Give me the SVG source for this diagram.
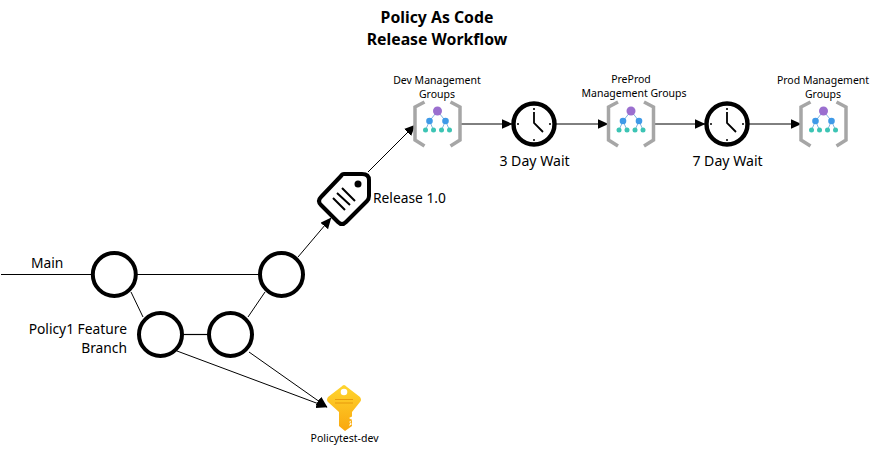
<svg xmlns="http://www.w3.org/2000/svg" width="878" height="452" viewBox="0 0 878 452">
<style>
text{font-family:"Noto Sans","Open Sans","Liberation Sans",sans-serif;fill:#000}
.t{font-size:15.8px;font-weight:700;text-anchor:middle}
.l{font-size:13.8px}
.s{font-size:10.5px;text-anchor:middle}
.c{fill:#fff;stroke:#000;stroke-width:4}
.k{stroke:#000;stroke-width:1;fill:none}
.bk{fill:none;stroke:#a6a6a6;stroke-width:3.5}
</style>
<defs>
<marker id="a" markerUnits="userSpaceOnUse" markerWidth="12" markerHeight="12" refX="10.500" refY="5" orient="auto"><path d="M0 0L11 5L0 10Z" fill="#000"/></marker>
<g id="mg">
<path class="bk" d="M-13 -22L-22.500 -17V16L-13 22"/>
<path class="bk" d="M13 -22L22.500 -17V16L13 22"/>
<path d="M0 -13L-8 -3L-12 6M-8 -3L-4 6M0 -13L8 -3L12 6M8 -3L4 6" fill="none" stroke="#7fb5e0" stroke-width="1"/>
<circle cx="0" cy="-13" r="4.500" fill="#9b6fcf"/>
<circle cx="-8" cy="-3" r="3.300" fill="#3f9ae8"/><circle cx="8" cy="-3" r="3.300" fill="#3f9ae8"/>
<circle cx="-12" cy="6" r="2.500" fill="#3cc4b4"/><circle cx="-4" cy="6" r="2.500" fill="#3cc4b4"/><circle cx="4" cy="6" r="2.500" fill="#3cc4b4"/><circle cx="12" cy="6" r="2.500" fill="#3cc4b4"/>
</g>
<g id="clk">
<circle r="20.500" fill="#fff" stroke="#000" stroke-width="4.400"/>
<path d="M0 -12V-1L9 8" fill="none" stroke="#000" stroke-width="1.800"/>
<path d="M0 -16V-14" stroke="#000" stroke-width="1.600"/>
<circle cx="-16" r="1"/><circle cx="16" r="1"/><circle cy="16" r="1"/>
</g>
<linearGradient id="ky" x1="0" y1="0" x2="0" y2="1"><stop offset="0" stop-color="#ffd52e"/><stop offset="1" stop-color="#f9a70f"/></linearGradient>
</defs>

<text class="t" x="437" y="23">Policy As Code</text>
<text class="t" x="437" y="45">Release Workflow</text>

<g id="connectors">
<path class="k" d="M1 274.500H93M136 274.500H261"/>
<path class="k" d="M131 292L143 317"/>
<path class="k" style="stroke-width:1.200" d="M182 334.500H209"/>
<path class="k" d="M248 317L265 292"/>
<path class="k" d="M298 257L331 218" marker-end="url(#a)"/>
<path class="k" d="M368 172L415 125" marker-end="url(#a)"/>
<path class="k" d="M177 351L327 407" marker-end="url(#a)"/>
<path class="k" d="M249 352L327 407" marker-end="url(#a)"/>
<path class="k" d="M460 124H512" marker-end="url(#a)"/>
<path class="k" d="M556 124H608" marker-end="url(#a)"/>
<path class="k" d="M654 124H705" marker-end="url(#a)"/>
<path class="k" d="M749 124H801" marker-end="url(#a)"/>
</g>

<g id="main-1"><circle class="c" cx="114.300" cy="274.500" r="21.500"/><text class="l" x="31" y="268">Main</text></g>
<g id="main-2"><circle class="c" cx="281.500" cy="274.500" r="21.500"/></g>
<g id="feature-1"><circle class="c" cx="160.500" cy="334.500" r="21.500"/><text class="l" x="127" y="334" text-anchor="end">Policy1 Feature</text><text class="l" x="127" y="353" text-anchor="end">Branch</text></g>
<g id="feature-2"><circle class="c" cx="230.500" cy="334.500" r="21.500"/></g>

<g id="release">
<path d="M344 174H362Q369 174 369 180V196Q369 199 367 201L346 222Q342 226 338 222L321 205Q317 201 321 197L341 176Q342 174 344 174Z" fill="#fff" stroke="#000" stroke-width="4" stroke-linejoin="round"/>
<circle cx="358" cy="184" r="3.500"/>
<path d="M333 198L345 210M337 193L350 205M342 188L355 201" stroke="#000" stroke-width="2" fill="none"/>
<text class="l" x="373" y="203">Release 1.0</text>
</g>

<g id="dev"><use href="#mg" x="437.500" y="124"/><text class="s" x="437" y="84">Dev Management</text><text class="s" x="437" y="98">Groups</text></g>
<g id="wait-3"><use href="#clk" x="534" y="124"/><text class="l" x="534.500" y="166" text-anchor="middle" style="font-size:14.100px">3 Day Wait</text></g>
<g id="preprod"><use href="#mg" x="631" y="124"/><text class="s" x="631" y="83">PreProd</text><text class="s" x="634" y="97">Management Groups</text></g>
<g id="wait-7"><use href="#clk" x="727" y="124"/><text class="l" x="727.500" y="166" text-anchor="middle" style="font-size:14.100px">7 Day Wait</text></g>
<g id="prod"><use href="#mg" x="823.500" y="124"/><text class="s" x="823" y="84">Prod Management</text><text class="s" x="823" y="98">Groups</text></g>

<g id="key">
<path d="M344 385Q345 385 347 387L360 397Q362 400 360 402L352 412V426L345 431L339 426V412L328 402Q326 400 328 397L341 387Q343 385 344 385Z" fill="url(#ky)"/>
<circle cx="344" cy="392" r="3.300" fill="#fff"/>
<path d="M335 399.500H353M335 403H353" stroke="#e89a0c" stroke-width="1.200"/>
<path d="M353 416L349 418L352 420L349 422L352 424L349 426" fill="#fff"/>
<text class="s" x="344.500" y="442">Policytest-dev</text>
</g>
</svg>
